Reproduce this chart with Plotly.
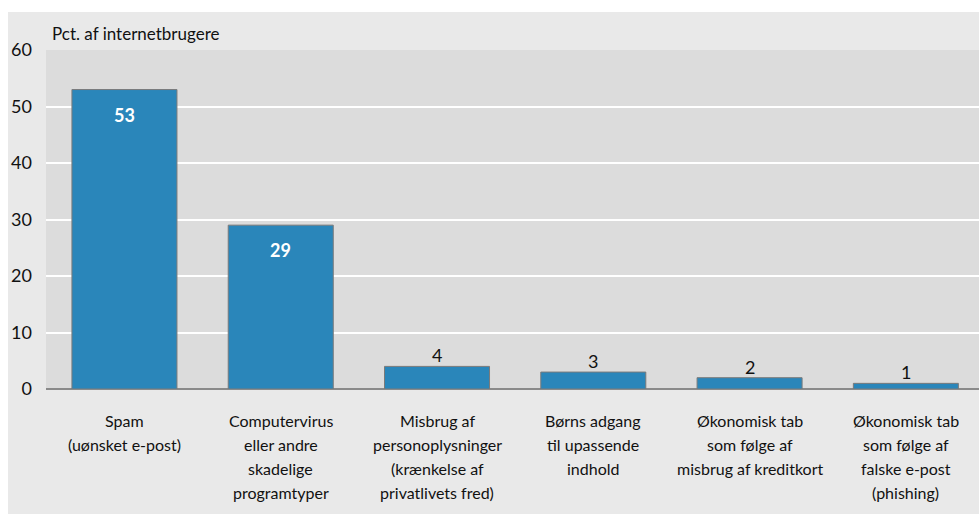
import plotly.graph_objects as go

categories = ["Spam", "Computervirus", "Misbrug af personoplysninger", "Børns adgang",
              "Økonomisk tab kreditkort", "Økonomisk tab phishing"]
label_lines = [
    ["Spam", "(uønsket e-post)"],
    ["Computervirus", "eller andre", "skadelige", "programtyper"],
    ["Misbrug af", "personoplysninger", "(krænkelse af", "privatlivets fred)"],
    ["Børns adgang", "til upassende", "indhold"],
    ["Økonomisk tab", "som følge af", "misbrug af kreditkort"],
    ["Økonomisk tab", "som følge af", "falske e-post", "(phishing)"],
]
values = [53, 29, 4, 3, 2, 1]
inside_flags = [True, True, False, False, False, False]
y_ticks = [0, 10, 20, 30, 40, 50, 60]
y_title = "Pct. af internetbrugere"

FONT = "Lato"
W, H = 979, 514
L, R, T, B = 46, 0, 50, 125
pw = W - L - R
ph = H - T - B

fig = go.Figure()
fig.add_trace(go.Bar(
    x=categories, y=values,
    marker=dict(color="#2a86ba", line=dict(color="#7a7a7a", width=1)),
    width=0.672, hoverinfo="skip", showlegend=False,
))

annotations = []
for c, v, inside in zip(categories, values, inside_flags):
    if inside:
        annotations.append(dict(x=c, y=v, xref="x", yref="y", text=f"<b>{v}</b>",
                                showarrow=False, yanchor="middle", yshift=-25,
                                font=dict(family=FONT, size=18, color="white")))
    else:
        annotations.append(dict(x=c, y=v, xref="x", yref="y", text=str(v),
                                showarrow=False, yanchor="middle", yshift=11,
                                font=dict(family=FONT, size=18, color="#111111")))

for c, lines in zip(categories, label_lines):
    for i, line in enumerate(lines):
        annotations.append(dict(x=c, y=0, xref="x", yref="paper", text=line,
                                showarrow=False, yanchor="middle", yshift=-(31 + 24 * i),
                                font=dict(family=FONT, size=16, color="#111111")))

annotations.append(dict(x=4 / pw, y=1, xref="paper", yref="paper", text=y_title,
                        xanchor="left", yanchor="middle", yshift=17, showarrow=False,
                        font=dict(family=FONT, size=17, color="#111111")))

shapes = [
    dict(type="rect", xref="paper", yref="paper", layer="below",
         x0=(8 - L) / pw, x1=1.01, y0=-(B + 5) / ph, y1=(ph + T - 12) / ph,
         fillcolor="#e9e9e9", line=dict(width=0)),
    dict(type="rect", xref="paper", yref="paper", layer="below",
         x0=0, x1=1.01, y0=0, y1=1,
         fillcolor="#dcdcdc", line=dict(width=0)),
]

fig.update_layout(
    width=W, height=H,
    margin=dict(l=L, r=R, t=T, b=B),
    paper_bgcolor="white", plot_bgcolor="rgba(0,0,0,0)",
    bargap=0.325,
    annotations=annotations, shapes=shapes,
    font=dict(family=FONT, size=17, color="#111111"),
    xaxis=dict(showticklabels=False, showgrid=False, zeroline=False,
               showline=False, ticks="", range=[-0.502, 5.468], fixedrange=True),
    yaxis=dict(range=[0, 60], tickvals=y_ticks, showgrid=True, gridcolor="white",
               gridwidth=2, zeroline=True, zerolinecolor="#8a8a8a", zerolinewidth=1.5,
               showline=False, ticks="", ticklabelstandoff=13,
               tickfont=dict(family=FONT, size=18, color="#111111"), fixedrange=True),
)

fig.write_html("out.html", config={"displayModeBar": False},
               post_script="document.body.style.margin='0';document.body.style.overflow='hidden';")
